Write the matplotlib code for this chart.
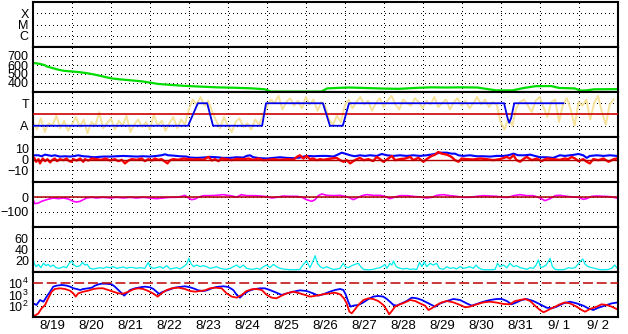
import matplotlib.pyplot as plt
import numpy as np
from matplotlib.ticker import NullLocator

plt.rcParams['font.family'] = ['Liberation Sans', 'DejaVu Sans']
plt.rcParams['mathtext.fontset'] = 'custom'
plt.rcParams['mathtext.rm'] = 'Liberation Sans'

# day labels, centred on each day (x = days since 8/19 00:00)
day_labels = ['8/19', '8/20', '8/21', '8/22', '8/23', '8/24', '8/25', '8/26',
              '8/27', '8/28', '8/29', '8/30', '8/31', '9/ 1', '9/ 2']

# panel 2: solar wind speed (km/s)
speed = [(0.0, 622), (0.1, 618), (0.2, 610), (0.3, 598), (0.35, 585), (0.45, 572),
         (0.55, 560), (0.65, 548), (0.8, 535), (1.0, 528), (1.2, 520), (1.4, 508),
         (1.6, 492), (1.8, 472), (2.0, 452), (2.2, 442), (2.5, 430), (2.8, 418),
         (3.0, 405), (3.2, 390), (3.5, 380), (3.9, 368), (4.3, 360), (4.7, 352),
         (5.1, 348), (5.6, 341), (5.95, 330), (6.1, 305), (7.4, 305), (7.55, 340),
         (7.8, 345), (8.1, 350), (8.5, 345), (9.0, 338), (9.4, 335), (9.8, 345),
         (10.2, 352), (10.6, 350), (11.0, 352), (11.4, 350), (11.7, 330), (11.9, 318),
         (12.3, 318), (12.6, 345), (12.9, 365), (13.3, 366), (13.5, 345), (13.9, 340),
         (14.05, 316), (14.2, 318), (14.4, 330), (14.98, 332)]

# panel 3: IMF phi angle (deg), every 0.1 day, and sector (A=90, T=270)
phi = [120, 60, 150, 40, 110, 90, 170, 70, 130, 50, 100, 160, 80, 140, 30, 120, 90, 200, 70, 110,
       150, 60, 130, 90, 170, 40, 100, 140, 80, 120, 60, 180, 90, 130, 50, 110, 160, 70, 140, 100,
       220, 300, 260, 320, 250, 290, 200,
       130, 70, 160, 90, 40, 120, 150, 80, 110, 60, 140, 100, 170,
       240, 300, 270, 330, 220, 280, 310, 250, 290, 230, 320, 260, 300, 210, 280, 250,
       140, 100, 170, 120,
       250, 300, 230, 280, 320, 260, 290, 210, 270, 310, 240, 290, 330, 260, 220, 300, 270, 250, 310, 280,
       230, 290, 260, 320, 240, 270, 300, 220, 280, 310, 250, 290, 230, 270, 320, 260, 300, 240, 280, 260,
       120, 60, 150, 90,
       230, 280, 300, 250, 200, 290, 320, 240, 160, 280, 300, 120, 260, 310, 220, 90, 280, 250, 300, 140,
       270, 330, 200, 100, 260, 300]
phi_t = np.arange(len(phi)) * 0.1
sector = [(0.0, 90), (3.98, 90), (4.23, 270), (4.47, 270), (4.62, 90), (5.88, 90),
          (5.98, 270), (7.44, 270), (7.62, 90), (7.95, 90), (8.11, 270), (12.09, 270),
          (12.18, 150), (12.22, 114), (12.27, 150), (12.35, 270), (13.61, 270)]

# panel 4: Bt (blue) and Bz (red), nT
bt = [(0.0, 3.26), (0.05, 3.85), (0.14, 3.85), (0.22, 2.96), (0.31, 4.44), (0.39, 3.85),
      (0.48, 3.26), (0.56, 3.85), (0.69, 2.67), (0.82, 2.96), (0.95, 2.67), (1.08, 3.26),
      (1.16, 3.85), (1.29, 2.96), (1.42, 2.67), (1.55, 2.07), (1.68, 2.37), (1.80, 2.67),
      (1.98, 2.67), (2.15, 2.96), (2.32, 3.26), (2.49, 2.96), (2.66, 2.67), (2.83, 2.96),
      (3.00, 2.67), (3.17, 3.26), (3.30, 3.85), (3.39, 4.74), (3.47, 3.85), (3.60, 3.56),
      (3.77, 2.96), (3.94, 2.67), (4.03, 1.78), (4.20, 1.48), (4.37, 1.78), (4.54, 2.37),
      (4.71, 2.07), (4.88, 1.48), (5.06, 1.48), (5.23, 2.07), (5.40, 1.78), (5.48, 3.26),
      (5.57, 3.85), (5.65, 2.07), (5.83, 1.19), (6.00, 0.89), (6.17, 1.48), (6.34, 2.07),
      (6.51, 1.48), (6.68, 1.19), (6.85, 1.78), (6.98, 2.96), (7.07, 3.26), (7.19, 2.96),
      (7.37, 3.26), (7.54, 3.26), (7.71, 2.67), (7.84, 4.74), (7.92, 6.22), (8.01, 5.33),
      (8.14, 3.85), (8.26, 2.96), (8.39, 3.85), (8.52, 3.26), (8.65, 3.85), (8.82, 3.26),
      (8.95, 5.04), (9.08, 3.85), (9.25, 3.26), (9.42, 3.85), (9.59, 3.26), (9.76, 3.85),
      (9.93, 3.26), (10.10, 3.85), (10.27, 4.74), (10.45, 6.22), (10.62, 6.22), (10.74, 5.33),
      (10.83, 5.33), (10.92, 3.85), (11.04, 3.26), (11.21, 3.85), (11.39, 2.96), (11.56, 2.96),
      (11.73, 2.67), (11.90, 3.26), (12.07, 3.26), (12.20, 3.85), (12.33, 5.33), (12.45, 3.85),
      (12.63, 3.85), (12.76, 4.44), (12.88, 3.26), (13.01, 2.07), (13.18, 2.07), (13.35, 1.48),
      (13.52, 3.85), (13.65, 3.26), (13.78, 3.85), (13.91, 4.44), (14.00, 5.04), (14.12, 3.85),
      (14.21, 1.48), (14.29, 3.26), (14.47, 3.85), (14.64, 3.26), (14.81, 3.85), (14.98, 3.26)]
bz = [(0.0, -0.59), (0.03, 1.48), (0.08, -2.07), (0.14, 0.30), (0.18, -3.56), (0.25, 0.89),
      (0.31, -1.48), (0.37, 0.30), (0.44, -2.67), (0.50, -0.30), (0.56, 0.89), (0.62, -1.48),
      (0.69, 0.30), (0.78, -0.59), (0.86, 0.89), (0.93, -1.48), (0.99, -2.07), (1.03, 0.30),
      (1.12, -0.89), (1.21, 0.89), (1.29, -2.07), (1.33, 0.30), (1.42, -0.89), (1.51, 0.89),
      (1.63, 0.30), (1.76, -0.30), (1.85, 0.89), (1.98, -0.89), (2.10, 0.30), (2.19, -1.48),
      (2.28, -0.30), (2.36, -3.56), (2.45, -0.89), (2.53, 0.30), (2.66, -0.30), (2.79, 0.89),
      (2.87, -1.48), (2.96, 0.30), (3.05, -0.89), (3.13, 0.89), (3.22, -0.30), (3.30, 0.30),
      (3.39, -2.07), (3.45, -3.56), (3.52, -0.59), (3.60, 0.30), (3.73, -0.30), (3.86, 0.89),
      (3.99, 0.30), (4.11, 0.0), (4.24, 0.30), (4.37, -0.30), (4.50, 2.37), (4.59, -0.89),
      (4.67, 0.30), (4.76, -1.48), (4.84, 0.89), (4.97, 0.30), (5.10, -0.59), (5.23, 0.59),
      (5.40, 0.30), (5.53, 0.89), (5.65, -0.30), (5.78, 0.89), (5.91, -0.59), (6.04, -0.30),
      (6.17, 0.30), (6.30, -0.30), (6.43, 0.0), (6.56, 0.30), (6.68, -0.30), (6.77, 2.37),
      (6.85, 3.85), (6.94, 0.89), (7.02, 3.26), (7.11, 0.30), (7.19, 0.89), (7.28, -0.59),
      (7.37, 0.30), (7.45, -0.30), (7.54, 0.30), (7.66, 0.89), (7.79, 1.48), (7.88, -0.59),
      (7.97, -2.07), (8.05, -0.59), (8.14, -3.56), (8.22, -1.48), (8.31, 0.30), (8.39, 1.48),
      (8.48, -0.59), (8.61, 0.30), (8.73, -1.48), (8.82, 2.37), (8.91, 0.30), (8.99, -2.07),
      (9.12, 0.89), (9.21, 3.26), (9.29, -0.59), (9.42, 0.30), (9.55, 0.89), (9.68, 2.37),
      (9.76, -0.59), (9.89, 1.48), (10.02, -2.07), (10.10, 0.30), (10.23, 3.26), (10.32, 4.44),
      (10.40, 6.81), (10.49, 5.33), (10.62, 4.44), (10.74, 2.37), (10.83, -0.59), (10.92, -2.07),
      (11.00, 0.89), (11.13, 0.30), (11.30, 0.0), (11.47, 0.89), (11.64, 0.30), (11.81, -0.59),
      (11.98, 0.30), (12.16, 2.37), (12.24, 0.89), (12.33, 3.85), (12.41, -0.59), (12.50, -2.07),
      (12.58, 0.30), (12.67, 2.37), (12.80, -0.59), (12.93, 0.89), (13.05, -1.48), (13.18, 0.89),
      (13.35, 0.30), (13.52, -0.30), (13.65, 0.89), (13.74, 0.30), (13.82, 2.37), (13.91, 0.89),
      (14.00, -1.48), (14.12, 0.30), (14.21, -2.07), (14.29, -3.56), (14.38, 0.30), (14.51, -0.59),
      (14.64, 0.89), (14.77, -2.07), (14.90, 0.30), (14.98, 0.89)]

# panel 5: Dst (nT)
dst = [(0.0, -17.8), (0.05, -44.4), (0.14, -40), (0.22, -28.9), (0.35, -17.8), (0.52, -6.7),
       (0.65, -11.1), (0.78, -6.7), (0.91, -13.3), (1.03, -28.9), (1.12, -33.3), (1.21, -28.9),
       (1.29, -17.8), (1.38, -6.7), (1.51, -2.2), (1.63, -6.7), (1.80, -2.2), (1.98, -6.7),
       (2.15, -2.2), (2.32, -6.7), (2.49, -2.2), (2.66, -6.7), (2.83, -2.2), (3.00, -6.7),
       (3.17, -11.1), (3.34, -6.7), (3.52, -2.2), (3.69, -2.2), (3.81, 4.4), (3.90, 11.1),
       (3.99, -6.7), (4.07, -17.8), (4.16, -13.3), (4.24, -2.2), (4.37, 8.9), (4.54, 8.9),
       (4.71, 11.1), (4.88, 15.6), (5.06, 8.9), (5.23, 0), (5.35, 15.6), (5.48, 8.9),
       (5.65, 8.9), (5.83, 6.7), (6.00, 2.2), (6.13, -6.7), (6.25, -2.2), (6.42, 6.7),
       (6.60, 4.4), (6.77, 4.4), (6.89, 0), (7.02, -17.8), (7.15, -28.9), (7.24, -17.8),
       (7.32, 8.9), (7.41, 20), (7.54, 11.1), (7.71, 8.9), (7.88, 11.1), (8.01, 4.4),
       (8.14, -6.7), (8.22, -17.8), (8.31, -6.7), (8.44, 8.9), (8.56, 15.6), (8.73, 11.1),
       (8.91, 11.1), (9.03, 4.4), (9.16, -11.1), (9.29, 0), (9.42, 8.9), (9.59, 8.9),
       (9.76, 4.4), (9.93, 0), (10.10, -6.7), (10.23, -2.2), (10.36, 11.1), (10.53, 15.6),
       (10.70, 8.9), (10.87, 4.4), (11.04, -2.2), (11.21, -2.2), (11.39, 4.4), (11.56, 8.9),
       (11.73, 6.7), (11.90, 4.4), (12.07, -2.2), (12.20, -2.2), (12.33, 8.9), (12.50, 15.6),
       (12.67, 8.9), (12.84, 8.9), (13.01, -6.7), (13.14, -24.4), (13.27, -11.1), (13.40, 8.9),
       (13.52, 11.1), (13.70, 4.4), (13.87, 0), (14.00, -2.2), (14.12, -15.6), (14.21, -11.1),
       (14.34, 4.4), (14.47, 6.7), (14.64, 4.4), (14.81, 2.2), (14.98, -6.7)]

# panel 6: proton density (/cc)
dens = [(0.0, 24.3), (0.03, 15.4), (0.08, 9.5), (0.14, 13.6), (0.20, 7.7), (0.27, 15.4),
        (0.33, 11.3), (0.39, 13.6), (0.45, 9.5), (0.52, 12.4), (0.59, 7.7), (0.68, 6.5),
        (0.78, 9.5), (0.86, 7.7), (0.93, 15.4), (0.99, 19.6), (1.05, 12.4), (1.12, 9.5),
        (1.21, 11.3), (1.27, 17.2), (1.33, 12.4), (1.39, 13.6), (1.46, 6.5), (1.55, 5.3),
        (1.63, 6.5), (1.72, 7.7), (1.80, 6.5), (1.89, 8.9), (1.98, 7.7), (2.06, 9.5),
        (2.15, 6.5), (2.23, 7.7), (2.32, 8.9), (2.40, 6.5), (2.49, 8.3), (2.58, 7.7),
        (2.66, 6.5), (2.75, 7.7), (2.87, 6.5), (2.92, 12.4), (2.96, 17.2), (3.00, 9.5),
        (3.09, 6.5), (3.17, 7.7), (3.26, 9.5), (3.34, 6.5), (3.43, 11.3), (3.52, 5.3),
        (3.60, 6.5), (3.69, 7.7), (3.77, 5.3), (3.86, 9.5), (3.94, 13.6), (4.00, 24.3),
        (4.05, 15.4), (4.12, 9.5), (4.20, 12.4), (4.29, 9.5), (4.37, 11.3), (4.46, 9.5),
        (4.54, 6.5), (4.63, 7.7), (4.71, 9.5), (4.80, 6.5), (4.89, 5.3), (4.97, 4.7),
        (5.06, 6.5), (5.14, 9.5), (5.23, 12.4), (5.31, 7.7), (5.40, 12.4), (5.48, 6.5),
        (5.57, 5.3), (5.65, 4.7), (5.74, 6.5), (5.83, 4.7), (5.91, 9.5), (6.00, 12.4),
        (6.08, 7.7), (6.17, 13.6), (6.25, 9.5), (6.34, 6.5), (6.42, 5.3), (6.51, 4.7),
        (6.60, 4.1), (6.68, 4.1), (6.77, 4.1), (6.85, 4.7), (6.94, 13.6), (7.02, 19.6),
        (7.11, 7.7), (7.18, 18.4), (7.24, 29.0), (7.30, 15.4), (7.37, 9.5), (7.45, 6.5),
        (7.54, 9.5), (7.62, 6.5), (7.71, 4.7), (7.79, 5.3), (7.88, 6.5), (7.965, 15.4),
        (8.01, 9.5), (8.09, 7.7), (8.18, 11.3), (8.26, 13.6), (8.35, 15.4), (8.41, 9.5),
        (8.48, 4.7), (8.56, 4.1), (8.65, 4.1), (8.73, 4.7), (8.82, 6.5), (8.91, 7.7),
        (8.99, 11.3), (9.03, 13.6), (9.08, 6.5), (9.16, 15.4), (9.21, 12.4), (9.25, 19.6),
        (9.32, 9.5), (9.42, 6.5), (9.50, 5.3), (9.59, 6.5), (9.68, 4.7), (9.76, 5.3),
        (9.85, 4.7), (9.92, 17.2), (9.98, 9.5), (10.04, 18.4), (10.10, 9.5), (10.19, 15.4),
        (10.27, 12.4), (10.36, 15.4), (10.43, 6.5), (10.53, 4.7), (10.62, 9.5), (10.70, 6.5),
        (10.79, 7.7), (10.87, 5.3), (10.96, 9.5), (11.04, 6.5), (11.13, 7.7), (11.21, 9.5),
        (11.30, 6.5), (11.37, 12.4), (11.43, 7.7), (11.51, 4.7), (11.60, 4.1), (11.68, 4.1),
        (11.77, 4.1), (11.86, 4.7), (11.92, 15.4), (11.98, 9.5), (12.07, 12.4), (12.16, 7.7),
        (12.24, 15.4), (12.33, 9.5), (12.41, 11.3), (12.50, 7.7), (12.58, 6.5), (12.67, 4.7),
        (12.76, 7.7), (12.84, 6.5), (12.91, 12.4), (12.97, 21.3), (13.03, 7.7), (13.10, 9.5),
        (13.17, 12.4), (13.22, 18.4), (13.27, 24.3), (13.33, 9.5), (13.40, 4.7), (13.48, 4.1),
        (13.57, 4.1), (13.65, 4.7), (13.74, 7.7), (13.82, 6.5), (13.91, 7.7), (13.97, 12.4),
        (14.04, 18.4), (14.11, 23.1), (14.17, 13.6), (14.25, 9.5), (14.34, 7.7), (14.42, 6.5),
        (14.51, 4.7), (14.59, 4.1), (14.68, 4.1), (14.77, 4.7), (14.85, 6.5), (14.93, 12.4),
        (14.98, 7.7)]

# panel 7: electron flux, log10 (blue and red satellites)
flux_blue = [(0.0, 2.22), (0.09, 2.07), (0.18, 2.51), (0.27, 2.36), (0.35, 2.81), (0.44, 3.25),
             (0.52, 3.70), (0.61, 3.79), (0.74, 3.85), (0.86, 3.79), (0.95, 3.70), (1.04, 3.55),
             (1.12, 3.49), (1.21, 3.40), (1.29, 3.49), (1.42, 3.55), (1.51, 3.61), (1.59, 3.79),
             (1.68, 3.90), (1.76, 3.96), (1.89, 3.96), (2.02, 3.90), (2.10, 3.70), (2.19, 3.40),
             (2.28, 3.10), (2.34, 2.90), (2.40, 3.10), (2.49, 3.40), (2.62, 3.55), (2.75, 3.64),
             (2.87, 3.70), (3.00, 3.64), (3.09, 3.49), (3.17, 3.25), (3.24, 3.05), (3.30, 3.19),
             (3.39, 3.31), (3.52, 3.46), (3.64, 3.61), (3.77, 3.67), (3.90, 3.73), (4.03, 3.64),
             (4.16, 3.49), (4.24, 3.37), (4.37, 3.31), (4.46, 3.37), (4.59, 3.55), (4.71, 3.67),
             (4.89, 3.73), (5.01, 3.67), (5.14, 3.40), (5.23, 2.96), (5.31, 2.72), (5.40, 3.02),
             (5.53, 3.31), (5.65, 3.46), (5.83, 3.55), (5.95, 3.55), (6.08, 3.40), (6.25, 3.16),
             (6.38, 2.96), (6.51, 3.10), (6.68, 3.25), (6.85, 3.37), (7.02, 3.31), (7.19, 3.10),
             (7.32, 2.90), (7.45, 3.02), (7.62, 3.25), (7.75, 3.40), (7.88, 3.49), (7.965, 3.40),
             (8.03, 2.96), (8.09, 2.36), (8.15, 1.92), (8.22, 2.01), (8.35, 2.07), (8.48, 2.30),
             (8.61, 2.60), (8.73, 2.81), (8.86, 2.87), (8.99, 2.81), (9.08, 2.60), (9.16, 2.36),
             (9.25, 2.07), (9.33, 2.01), (9.46, 2.21), (9.59, 2.42), (9.72, 2.72), (9.85, 2.66),
             (9.98, 2.51), (10.10, 2.30), (10.23, 2.07), (10.32, 1.92), (10.45, 2.21), (10.62, 2.42),
             (10.79, 2.60), (10.96, 2.51), (11.13, 2.21), (11.26, 2.01), (11.39, 2.16), (11.56, 2.36),
             (11.73, 2.51), (11.90, 2.60), (12.03, 2.60), (12.16, 2.42), (12.28, 2.13), (12.41, 2.30),
             (12.54, 2.51), (12.67, 2.60), (12.84, 2.42), (13.01, 2.13), (13.18, 1.83), (13.31, 1.77),
             (13.44, 1.92), (13.61, 2.21), (13.78, 2.36), (13.95, 2.21), (14.12, 2.01), (14.25, 1.77),
             (14.38, 1.62), (14.51, 1.83), (14.68, 2.01), (14.85, 2.21), (14.98, 2.28)]
flux_red = [(0.0, 1.18), (0.05, 1.12), (0.14, 1.33), (0.22, 1.77), (0.31, 2.07), (0.39, 2.66),
            (0.48, 3.25), (0.56, 3.49), (0.69, 3.55), (0.82, 3.49), (0.95, 3.34), (1.035, 3.10),
            (1.095, 2.81), (1.16, 3.10), (1.29, 3.25), (1.42, 3.34), (1.55, 3.49), (1.68, 3.55),
            (1.80, 3.55), (1.93, 3.40), (2.06, 3.25), (2.19, 3.10), (2.32, 3.08), (2.45, 3.25),
            (2.575, 3.46), (2.70, 3.55), (2.83, 3.49), (2.96, 3.31), (3.09, 3.08), (3.20, 2.81),
            (3.30, 3.10), (3.43, 3.40), (3.56, 3.55), (3.73, 3.61), (3.90, 3.49), (4.03, 3.31),
            (4.16, 3.25), (4.29, 3.31), (4.41, 3.37), (4.54, 3.55), (4.67, 3.61), (4.84, 3.55),
            (4.97, 3.10), (5.10, 2.81), (5.23, 2.72), (5.355, 2.96), (5.48, 3.31), (5.61, 3.46),
            (5.74, 3.49), (5.87, 3.40), (6.00, 2.96), (6.125, 2.72), (6.25, 2.66), (6.38, 2.90),
            (6.51, 3.10), (6.68, 3.25), (6.85, 3.10), (6.98, 2.96), (7.11, 2.81), (7.28, 2.90),
            (7.45, 3.02), (7.62, 3.10), (7.75, 3.16), (7.88, 3.02), (7.98, 2.66), (8.05, 2.21),
            (8.12, 1.47), (8.18, 1.33), (8.25, 1.62), (8.35, 2.07), (8.48, 2.51), (8.61, 2.66),
            (8.73, 2.60), (8.86, 2.42), (8.99, 2.07), (9.08, 1.62), (9.14, 1.24), (9.21, 1.54),
            (9.29, 1.92), (9.42, 2.13), (9.55, 2.30), (9.68, 2.51), (9.81, 2.42), (9.93, 2.21),
            (10.06, 2.01), (10.15, 1.62), (10.23, 1.77), (10.36, 2.07), (10.49, 2.30), (10.62, 2.42),
            (10.79, 2.30), (10.96, 2.07), (11.09, 1.86), (11.21, 1.92), (11.39, 2.13), (11.56, 2.30),
            (11.73, 2.36), (11.90, 2.28), (12.07, 2.16), (12.24, 2.13), (12.37, 2.42), (12.50, 2.51),
            (12.63, 2.60), (12.76, 2.42), (12.88, 2.01), (13.01, 1.62), (13.10, 1.42), (13.18, 1.54),
            (13.27, 1.71), (13.40, 1.92), (13.52, 2.13), (13.65, 2.30), (13.78, 2.21), (13.95, 1.92),
            (14.08, 1.62), (14.17, 1.47), (14.29, 1.71), (14.47, 1.92), (14.59, 2.13), (14.72, 2.07),
            (14.85, 1.92), (14.98, 1.71)]

# 1 px dots, 3 px apart
dot = (0, (1, 3))

fig = plt.figure(figsize=(6.28, 3.34), dpi=100)
x0, x1 = 33 / 628, 617.5 / 628
top, bot = 1 - 2 / 334, 1 - 317 / 334
h = (top - bot) / 7
axes = [fig.add_axes([x0, top - (i + 1) * h, x1 - x0, h]) for i in range(7)]

for ax in axes:
    ax.set_xlim(0, 15)
    ax.set_xticks(np.arange(1, 15))
    ax.tick_params(axis='both', length=0, labelsize=9, pad=3)
    ax.tick_params(axis='x', labelbottom=False)
    ax.grid(True, color='black', linestyle=dot, linewidth=0.72, antialiased=False)
    for s in ax.spines.values():
        s.set_linewidth(1.5)

# X-ray class
ax = axes[0]
ax.set_yscale('log')
ax.set_ylim(1e-7, 1e-3)
ax.set_yticks([1e-6, 1e-5, 1e-4])
ax.set_yticklabels(['C', 'M', 'X'])
ax.yaxis.set_minor_locator(NullLocator())

# speed
ax = axes[1]
t, v = np.array(speed).T
ax.plot(t, v, color='#00DD00', lw=1.6)
ax.set_ylim(300, 800)
ax.set_yticks([400, 500, 600, 700])

# sector
ax = axes[2]
ax.plot(phi_t, phi, color='#F6E29A', lw=1.4, zorder=2)
ax.axhline(180, color='#CC0000', lw=1.2, zorder=3)
t, v = np.array(sector).T
ax.plot(t, v, color='#0000EE', lw=1.3, zorder=4)
ax.set_ylim(0, 360)
ax.set_yticks([90, 270])
ax.set_yticklabels(['A', 'T'])

# IMF
ax = axes[3]
t, v = np.array(bt).T
ax.plot(t, v, color='#0000FF', lw=1.5)
t, v = np.array(bz).T
ax.plot(t, v, color='#FF0000', lw=1.7)
ax.axhline(0, color='#B00000', lw=1.0)
ax.set_ylim(-20.5, 20.5)
ax.set_yticks([-10, 0, 10])

# Dst
ax = axes[4]
t, v = np.array(dst).T
ax.plot(t, v, color='#FF00FF', lw=1.2)
ax.axhline(0, color='#B00000', lw=1.1)
ax.set_ylim(-200, 100)
ax.set_yticks([-100, 0])

# density
ax = axes[5]
t, v = np.array(dens).T
ax.plot(t, v, color='#00EEEE', lw=0.9)
ax.set_ylim(0, 80)
ax.set_yticks([20, 40, 60])

# electron flux
ax = axes[6]
ax.set_yscale('log')
ax.set_ylim(1e1, 1e5)
ax.axhline(1e4, color='#C00000', lw=1.1, ls=(0, (6.5, 2.5)), zorder=3)
t, v = np.array(flux_blue).T
ax.plot(t, 10 ** v, color='#0000FF', lw=1.3)
t, v = np.array(flux_red).T
ax.plot(t, 10 ** v, color='#FF0000', lw=1.3)
ax.set_yticks([1e2, 1e3, 1e4])
ax.set_yticklabels(['10$^2$', '10$^3$', '10$^4$'])
ax.yaxis.set_minor_locator(NullLocator())
ax.get_ygridlines()[2].set_visible(False)
ax.set_xticks(np.arange(15) + 0.5, minor=True)
ax.set_xticklabels(day_labels, minor=True)
ax.tick_params(axis='x', which='minor', length=0, labelsize=9.5, pad=2)

fig.savefig('out.png', dpi=100)
